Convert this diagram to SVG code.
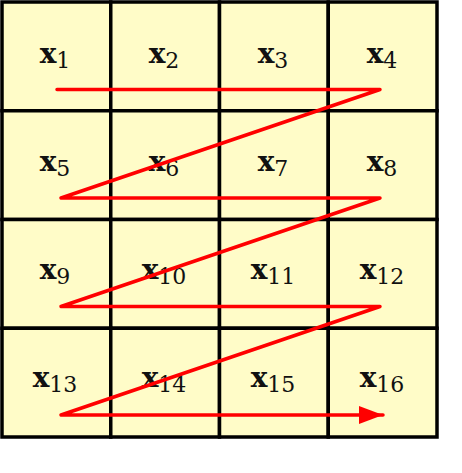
<svg xmlns="http://www.w3.org/2000/svg" width="462" height="473" viewBox="0 0 462 473">
<defs>
<style>
.cell{fill:#fffcc8;stroke:#000;stroke-width:3.5}
.lbl{font-family:"DejaVu Serif","Liberation Serif",serif;fill:#111;text-anchor:middle}
.v{font-weight:bold;font-size:28px}
.s{font-size:22px}
.conn{fill:none;stroke:#ff0000;stroke-width:3.5;stroke-linejoin:round;stroke-linecap:round}
</style>
<marker id="ah" markerUnits="userSpaceOnUse" markerWidth="26" markerHeight="20" refX="24" refY="9" orient="auto">
<path d="M0,0 L24,9 L0,18 Z" fill="#ff0000"/>
</marker>
</defs>
<rect x="0" y="0" width="462" height="473" fill="#fff"/>
<g id="x1"><rect class="cell" x="2" y="2" width="108.75" height="108.75"/><text class="lbl" x="55" y="63"><tspan class="v">x</tspan><tspan class="s" dy="5">1</tspan></text></g>
<g id="x2"><rect class="cell" x="110.75" y="2" width="108.75" height="108.75"/><text class="lbl" x="164" y="63"><tspan class="v">x</tspan><tspan class="s" dy="5">2</tspan></text></g>
<g id="x3"><rect class="cell" x="219.5" y="2" width="108.75" height="108.75"/><text class="lbl" x="273" y="63"><tspan class="v">x</tspan><tspan class="s" dy="5">3</tspan></text></g>
<g id="x4"><rect class="cell" x="328.25" y="2" width="108.75" height="108.75"/><text class="lbl" x="382" y="63"><tspan class="v">x</tspan><tspan class="s" dy="5">4</tspan></text></g>
<g id="x5"><rect class="cell" x="2" y="110.75" width="108.75" height="108.75"/><text class="lbl" x="55" y="171"><tspan class="v">x</tspan><tspan class="s" dy="5">5</tspan></text></g>
<g id="x6"><rect class="cell" x="110.75" y="110.75" width="108.75" height="108.75"/><text class="lbl" x="164" y="171"><tspan class="v">x</tspan><tspan class="s" dy="5">6</tspan></text></g>
<g id="x7"><rect class="cell" x="219.5" y="110.75" width="108.75" height="108.75"/><text class="lbl" x="273" y="171"><tspan class="v">x</tspan><tspan class="s" dy="5">7</tspan></text></g>
<g id="x8"><rect class="cell" x="328.25" y="110.75" width="108.75" height="108.75"/><text class="lbl" x="382" y="171"><tspan class="v">x</tspan><tspan class="s" dy="5">8</tspan></text></g>
<g id="x9"><rect class="cell" x="2" y="219.5" width="108.75" height="108.75"/><text class="lbl" x="55" y="279"><tspan class="v">x</tspan><tspan class="s" dy="5">9</tspan></text></g>
<g id="x10"><rect class="cell" x="110.75" y="219.5" width="108.75" height="108.75"/><text class="lbl" x="164" y="279"><tspan class="v">x</tspan><tspan class="s" dy="5">10</tspan></text></g>
<g id="x11"><rect class="cell" x="219.5" y="219.5" width="108.75" height="108.75"/><text class="lbl" x="273" y="279"><tspan class="v">x</tspan><tspan class="s" dy="5">11</tspan></text></g>
<g id="x12"><rect class="cell" x="328.25" y="219.5" width="108.75" height="108.75"/><text class="lbl" x="382" y="279"><tspan class="v">x</tspan><tspan class="s" dy="5">12</tspan></text></g>
<g id="x13"><rect class="cell" x="2" y="328.25" width="108.75" height="108.75"/><text class="lbl" x="55" y="387"><tspan class="v">x</tspan><tspan class="s" dy="5">13</tspan></text></g>
<g id="x14"><rect class="cell" x="110.75" y="328.25" width="108.75" height="108.75"/><text class="lbl" x="164" y="387"><tspan class="v">x</tspan><tspan class="s" dy="5">14</tspan></text></g>
<g id="x15"><rect class="cell" x="219.5" y="328.25" width="108.75" height="108.75"/><text class="lbl" x="273" y="387"><tspan class="v">x</tspan><tspan class="s" dy="5">15</tspan></text></g>
<g id="x16"><rect class="cell" x="328.25" y="328.25" width="108.75" height="108.75"/><text class="lbl" x="382" y="387"><tspan class="v">x</tspan><tspan class="s" dy="5">16</tspan></text></g>
<g id="connectors">
<path class="conn" d="M57,89.5 L380,89.5 L61,198 L380,198 L61,306.5 L380,306.5 L61,415 L383,415" marker-end="url(#ah)"/>
</g>
</svg>
